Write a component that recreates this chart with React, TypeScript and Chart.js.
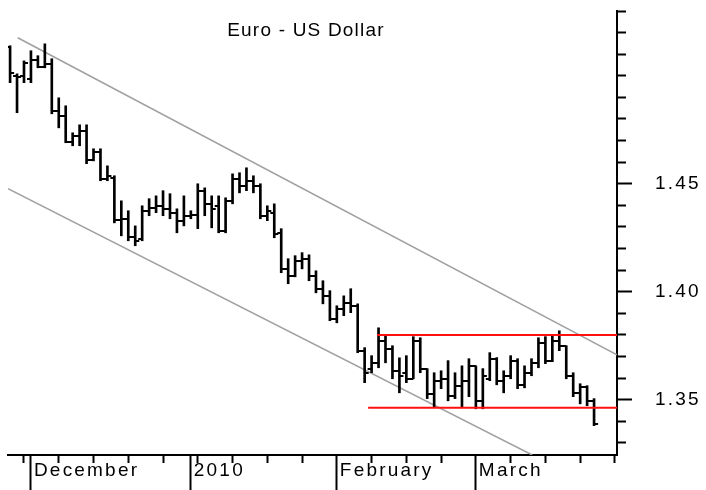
import React, { useEffect, useRef } from 'react';
import { Chart, registerables } from 'chart.js';

Chart.register(...registerables);

// EUR/USD daily OHLC, one entry per trading day (index 0 = 26 Nov 2009 ... 84 = 24 Mar 2010)
const highs = [
  1.5139, 1.5009, 1.5069, 1.5116, 1.5093, 1.5148, 1.5079, 1.4898, 1.4861, 1.4736,
  1.4773, 1.4773, 1.4662, 1.4662, 1.4583, 1.4537, 1.4421, 1.4375, 1.4305, 1.4398,
  1.4431, 1.4444, 1.4468, 1.4454, 1.4384, 1.4444, 1.4375, 1.4500, 1.4481, 1.4444,
  1.4444, 1.4435, 1.4546, 1.4551, 1.4574, 1.4537, 1.4500, 1.4398, 1.4407, 1.4292,
  1.4153, 1.4167, 1.4181, 1.4171, 1.4097, 1.4051, 1.4005, 1.3935, 1.3981, 1.4014,
  1.3944, 1.3741, 1.3704, 1.3833, 1.3796, 1.3750, 1.3694, 1.3704, 1.3792, 1.3787,
  1.3644, 1.3625, 1.3634, 1.3681, 1.3625, 1.3657, 1.3690, 1.3657, 1.3644, 1.3718,
  1.3695, 1.3634, 1.3704, 1.3690, 1.3657, 1.3690, 1.3787, 1.3792, 1.3801, 1.3819,
  1.3750, 1.3625, 1.3574, 1.3565, 1.3505,
];
const lows = [
  1.4968, 1.4829, 1.4968, 1.4968, 1.5037, 1.5037, 1.4824, 1.4759, 1.4690, 1.4676,
  1.4676, 1.4593, 1.4606, 1.4514, 1.4514, 1.4319, 1.4259, 1.4236, 1.4213, 1.4236,
  1.4352, 1.4366, 1.4352, 1.4338, 1.4273, 1.4305, 1.4338, 1.4292, 1.4352, 1.4296,
  1.4273, 1.4273, 1.4407, 1.4458, 1.4468, 1.4458, 1.4338, 1.4329, 1.4250, 1.4088,
  1.4037, 1.4069, 1.4106, 1.4051, 1.3995, 1.3944, 1.3866, 1.3856, 1.3889, 1.3903,
  1.3718, 1.3579, 1.3625, 1.3648, 1.3671, 1.3597, 1.3532, 1.3579, 1.3597, 1.3625,
  1.3505, 1.3463, 1.3551, 1.3495, 1.3505, 1.3463, 1.3514, 1.3458, 1.3458, 1.3588,
  1.3569, 1.3532, 1.3597, 1.3551, 1.3555, 1.3611, 1.3648, 1.3667, 1.3676, 1.3727,
  1.3597, 1.3514, 1.3481, 1.3472, 1.3380,
];
const opens = [
  1.5134, 1.5000, 1.5000, 1.4986, 1.5074, 1.5042, 1.5056, 1.4838, 1.4815, 1.4694,
  1.4722, 1.4745, 1.4611, 1.4648, 1.4523, 1.4528, 1.4333, 1.4338, 1.4254, 1.4245,
  1.4375, 1.4389, 1.4398, 1.4384, 1.4366, 1.4329, 1.4352, 1.4356, 1.4468, 1.4407,
  1.4398, 1.4282, 1.4421, 1.4523, 1.4491, 1.4514, 1.4491, 1.4352, 1.4366, 1.4273,
  1.4106, 1.4074, 1.4144, 1.4153, 1.4074, 1.4014, 1.3981, 1.3875, 1.3921, 1.3949,
  1.3935, 1.3727, 1.3644, 1.3671, 1.3773, 1.3736, 1.3634, 1.3625, 1.3597, 1.3773,
  1.3644, 1.3528, 1.3588, 1.3597, 1.3518, 1.3565, 1.3588, 1.3657, 1.3495, 1.3597,
  1.3690, 1.3588, 1.3611, 1.3681, 1.3569, 1.3625, 1.3671, 1.3764, 1.3681, 1.3773,
  1.3750, 1.3611, 1.3532, 1.3560, 1.3495,
];
const closes = [
  1.5014, 1.4995, 1.5060, 1.5074, 1.5042, 1.5056, 1.4838, 1.4815, 1.4694, 1.4722,
  1.4745, 1.4611, 1.4648, 1.4523, 1.4537, 1.4333, 1.4338, 1.4254, 1.4236, 1.4375,
  1.4389, 1.4398, 1.4384, 1.4366, 1.4329, 1.4352, 1.4356, 1.4468, 1.4407, 1.4384,
  1.4282, 1.4421, 1.4523, 1.4491, 1.4514, 1.4491, 1.4352, 1.4375, 1.4268, 1.4106,
  1.4074, 1.4144, 1.4153, 1.4074, 1.4014, 1.3981, 1.3875, 1.3921, 1.3949, 1.3935,
  1.3727, 1.3625, 1.3671, 1.3773, 1.3736, 1.3634, 1.3611, 1.3597, 1.3773, 1.3644,
  1.3528, 1.3588, 1.3597, 1.3518, 1.3565, 1.3588, 1.3657, 1.3495, 1.3611, 1.3690,
  1.3588, 1.3611, 1.3681, 1.3569, 1.3625, 1.3671, 1.3764, 1.3681, 1.3773, 1.3750,
  1.3611, 1.3532, 1.3560, 1.3495, 1.3389,
];

// x axis: trading-day index of month starts and of each Monday
const monthLabels = ['December', '2010', 'February', 'March'];
const monthStartDays = [3, 26, 47, 67];
const weekStartDays = [2, 7, 12, 17, 22, 27, 32, 37, 42, 47, 52, 57, 62, 67, 72, 77, 82, 87];
const dayMin = -0.3;
const dayMax = 87.3;

// y axis
const priceTicks = [
  1.33, 1.34, 1.35, 1.36, 1.37, 1.38, 1.39, 1.4, 1.41, 1.42, 1.43,
  1.44, 1.45, 1.46, 1.47, 1.48, 1.49, 1.5, 1.51, 1.52, 1.53,
];
const labeledPrices = [1.35, 1.4, 1.45];
const priceMin = 1.3244;
const priceMax = 1.53;

// trend channel (gray) and range lines (red)
const upperChannelDays = [1.1, 87.3];
const upperChannelPrices = [1.5176, 1.3708];
const lowerChannelDays = [-0.3, 75.1];
const lowerChannelPrices = [1.4477, 1.3244];
const resistanceDays = [52.8, 87.3];
const resistancePrice = 1.38;
const supportDays = [51.5, 87.3];
const supportPrice = 1.3463;

const titleText = 'Euro - US Dollar';

const FONT = "'Liberation Sans', Arial, sans-serif";

function makeTick(side: 'open' | 'close'): HTMLCanvasElement {
  const c = document.createElement('canvas');
  c.width = 10;
  c.height = 2;
  const g = c.getContext('2d')!;
  g.fillStyle = '#000';
  if (side === 'open') g.fillRect(1, 0, 4, 2);
  else g.fillRect(5, 0, 4, 2);
  return c;
}

const near = (a: number, b: number) => Math.abs(a - b) < 1e-6;

export default function App() {
  const ref = useRef<HTMLCanvasElement | null>(null);

  useEffect(() => {
    if (!ref.current) return;
    const openImg = makeTick('open');
    const closeImg = makeTick('close');
    const xTickValues = Array.from(new Set([...weekStartDays, ...monthStartDays])).sort((a, b) => a - b);
    const isMonth = (v: number) => monthStartDays.some((m) => near(m, v));

    const chart = new Chart(ref.current, {
      type: 'bar',
      data: {
        datasets: [
          {
            type: 'line',
            data: resistanceDays.map((d) => ({ x: d, y: resistancePrice })),
            borderColor: '#ff1010',
            borderWidth: 2,
            pointRadius: 0,
            order: 0,
          } as any,
          {
            type: 'line',
            data: supportDays.map((d) => ({ x: d, y: supportPrice })),
            borderColor: '#ff1010',
            borderWidth: 2,
            pointRadius: 0,
            order: 0,
          } as any,
          {
            type: 'line',
            data: opens.map((o, i) => ({ x: i, y: o })),
            showLine: false,
            pointStyle: openImg,
            pointRadius: 3,
            order: 1,
          } as any,
          {
            type: 'line',
            data: closes.map((c, i) => ({ x: i, y: c })),
            showLine: false,
            pointStyle: closeImg,
            pointRadius: 3,
            order: 1,
          } as any,
          {
            type: 'bar',
            data: highs.map((h, i) => ({ x: i, y: [lows[i], h] })),
            backgroundColor: '#000',
            borderWidth: 0,
            barThickness: 2,
            order: 2,
          } as any,
          {
            type: 'line',
            data: upperChannelDays.map((d, i) => ({ x: d, y: upperChannelPrices[i] })),
            borderColor: '#a0a0a0',
            borderWidth: 1.5,
            pointRadius: 0,
            order: 3,
          } as any,
          {
            type: 'line',
            data: lowerChannelDays.map((d, i) => ({ x: d, y: lowerChannelPrices[i] })),
            borderColor: '#a0a0a0',
            borderWidth: 1.5,
            pointRadius: 0,
            order: 3,
          } as any,
        ],
      },
      options: {
        animation: false,
        responsive: false,
        events: [],
        layout: { padding: { left: 8, top: 11, right: 0, bottom: 0 } },
        plugins: {
          legend: { display: false },
          tooltip: { enabled: false },
          title: { display: false },
        },
        scales: {
          x: {
            type: 'linear',
            min: dayMin,
            max: dayMax,
            offset: false,
            afterBuildTicks: (s: any) => {
              s.ticks = xTickValues.map((v) => ({ value: v }));
            },
            afterFit: (s: any) => {
              s.height = 35;
              s.paddingLeft = 0;
              s.paddingRight = 0;
            },
            grid: {
              offset: false,
              drawOnChartArea: false,
              drawTicks: true,
              tickLength: 35,
              tickWidth: 2,
              tickColor: '#000',
              tickBorderDash: (ctx: any) => (ctx.tick && isMonth(ctx.tick.value) ? [] : [7, 100]),
            },
            border: { display: true, color: '#000', width: 2 },
            ticks: {
              autoSkip: false,
              maxRotation: 0,
              minRotation: 0,
              align: 'start',
              labelOffset: 3,
              padding: -31,
              color: '#000',
              font: { family: FONT, size: 19 },
              callback: (v: any) => {
                const k = monthStartDays.findIndex((m) => near(m, Number(v)));
                return k >= 0 ? monthLabels[k] : '';
              },
            },
          },
          y: {
            type: 'linear',
            position: 'right',
            min: priceMin,
            max: priceMax,
            afterBuildTicks: (s: any) => {
              s.ticks = priceTicks.map((v) => ({ value: v }));
            },
            afterFit: (s: any) => {
              s.width = 89;
              s.paddingTop = 0;
              s.paddingBottom = 0;
            },
            grid: {
              drawOnChartArea: false,
              drawTicks: true,
              tickLength: 15,
              tickWidth: 2,
              tickColor: '#000',
              tickBorderDash: (ctx: any) =>
                ctx.tick && labeledPrices.some((p) => near(p, ctx.tick.value)) ? [] : [8, 100],
            },
            border: { display: true, color: '#000', width: 2 },
            ticks: {
              autoSkip: false,
              padding: 23,
              color: '#000',
              font: { family: FONT, size: 19 },
              callback: (v: any) =>
                labeledPrices.some((p) => near(p, Number(v))) ? Number(v).toFixed(2) : '',
            },
          },
        },
      } as any,
      plugins: [
        {
          id: 'spacing',
          beforeDraw: (c: any) => {
            try {
              c.ctx.letterSpacing = '2.2px';
            } catch (e) {
              /* ignore */
            }
          },
        },
      ],
    });
    return () => chart.destroy();
  }, []);

  return (
    <div>
      <canvas
        ref={ref}
        width={706}
        height={490}
        style={{ position: 'fixed', left: 0, top: 0, width: 706, height: 490 }}
      />
      <div
        style={{
          position: 'fixed',
          left: 0,
          top: 19,
          width: 612,
          textAlign: 'center',
          fontFamily: FONT,
          fontSize: 19,
          lineHeight: '22px',
          letterSpacing: '1.2px',
          color: '#000',
        }}
      >
        {titleText}
      </div>
    </div>
  );
}
